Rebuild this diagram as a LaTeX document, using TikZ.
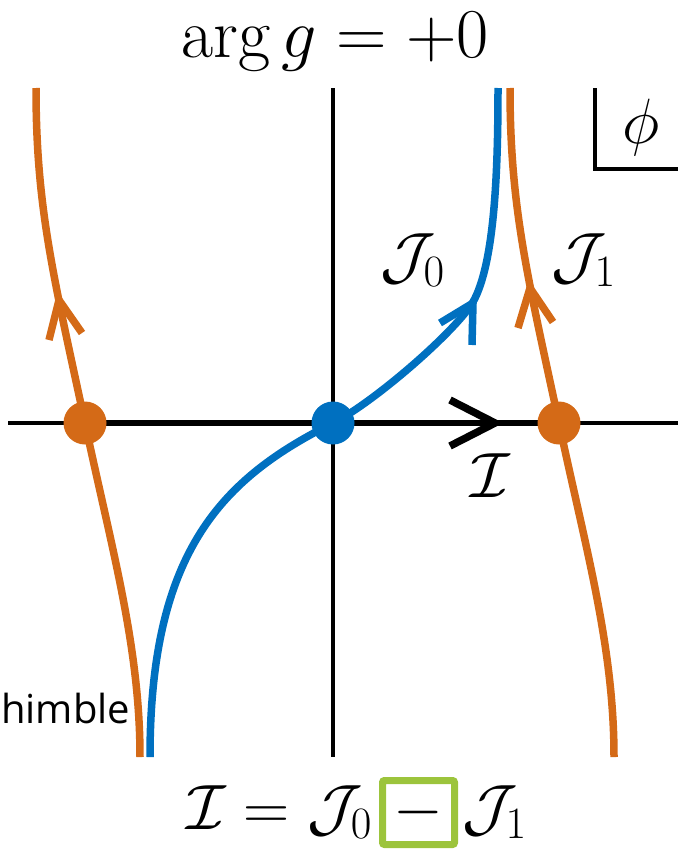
\RequirePackage{fix-cm}
\documentclass[tikz,border=0pt]{standalone}
\usepackage{fontspec}
\newfontfamily\uifont{Open Sans}
\definecolor{cOr}{HTML}{D46A17}
\definecolor{cBl}{HTML}{0070C0}
\definecolor{cGr}{HTML}{9CC43C}
\begin{document}
\begin{tikzpicture}[x=1pt,y=-1pt,
  axis/.style={line width=4pt, black, line cap=butt},
  axthick/.style={line width=6.5pt, black, line cap=butt},
  orcurve/.style={line width=7.5pt, cOr, line cap=butt},
  blcurve/.style={line width=7.5pt, cBl, line cap=butt},
  chev/.style={line width=7.5pt, line join=miter, line cap=butt},
  dot/.style={circle, inner sep=0pt, minimum size=43pt},
  lab/.style={inner sep=0pt, font=\fontsize{64}{77}\selectfont},
  bigl/.style={inner sep=0pt, font=\fontsize{70}{84}\selectfont},
]
\useasboundingbox (0,0) rectangle (683,851);

% key points
\coordinate (cL) at (85,423);
\coordinate (c0) at (333,423);
\coordinate (cR) at (559,423);
\coordinate (hL) at (8,423);
\coordinate (hR) at (678,423);
\coordinate (vT) at (333,88);
\coordinate (vB) at (333,757);

% axes
\draw[axis] (hL) -- (hR);
\draw[axis] (vT) -- (vB);
\draw[axthick] (cL) -- (cR);
\draw[chev] (450,400) -- (495,423) -- (450,446);

% phi corner
\coordinate (kT) at (595,88);
\coordinate (kC) at (595,169);
\coordinate (kR) at (678,169);
\draw[axis, line join=miter] (kT) -- (kC) -- (kR);

% orange thimbles
\draw[orcurve] (36,88) .. controls (36,208) and (53.5,276) .. (cL)
  .. controls (112,550) and (140,647) .. (140,757);
\draw[orcurve] (510,88) .. controls (510,208) and (527.5,276) .. (cR)
  .. controls (586,550) and (614,647) .. (614,757);
\draw[chev, cOr] (49,340) -- (59,300) -- (82,333);
\draw[chev, cOr] (518,328) -- (530,288) -- (553,322);

% blue thimble
\draw[blcurve] (150,757) .. controls (150,550) and (223,478) .. (c0)
  .. controls (373,403) and (455,332) .. (473,302)
  .. controls (495,263) and (498,168) .. (498,88);
\draw[chev, cBl] (440,323) -- (473,303) -- (472,345);

% saddle points
\node[dot, fill=cOr] (dL) at (cL) {};
\node[dot, fill=cBl] (d0) at (c0) {};
\node[dot, fill=cOr] (dR) at (cR) {};

% labels
\node[bigl, anchor=base] (title) at (335,58) {$\arg g=+0$};
\node[lab, anchor=base] (phi) at (641,143) {$\phi$};
\node[lab, anchor=base west] (J0) at (380,277) {$\mathcal{J}_0$};
\node[lab, anchor=base west] (J1) at (551,277) {$\mathcal{J}_1$};
\node[lab, anchor=base] (Ilab) at (490,497) {$\mathcal{I}$};

% bottom equation
\node[draw=cGr, line width=7pt, rounded corners=2pt, minimum width=72pt, minimum height=64pt, inner sep=0pt, font=\fontsize{64}{77}\selectfont] (box) at (418.5,812.5) {$-$};
\node[lab, anchor=base east] (lhs) at (372,829) {$\mathcal{I}=\mathcal{J}_0$};
\node[lab, anchor=base west] (rhs) at (462,829) {$\mathcal{J}_1$};

% cut-off text
\node[inner sep=0pt, anchor=base west, font=\uifont\fontsize{40}{48}\selectfont] (hm) at (1,723) {himble};
\end{tikzpicture}
\end{document}
